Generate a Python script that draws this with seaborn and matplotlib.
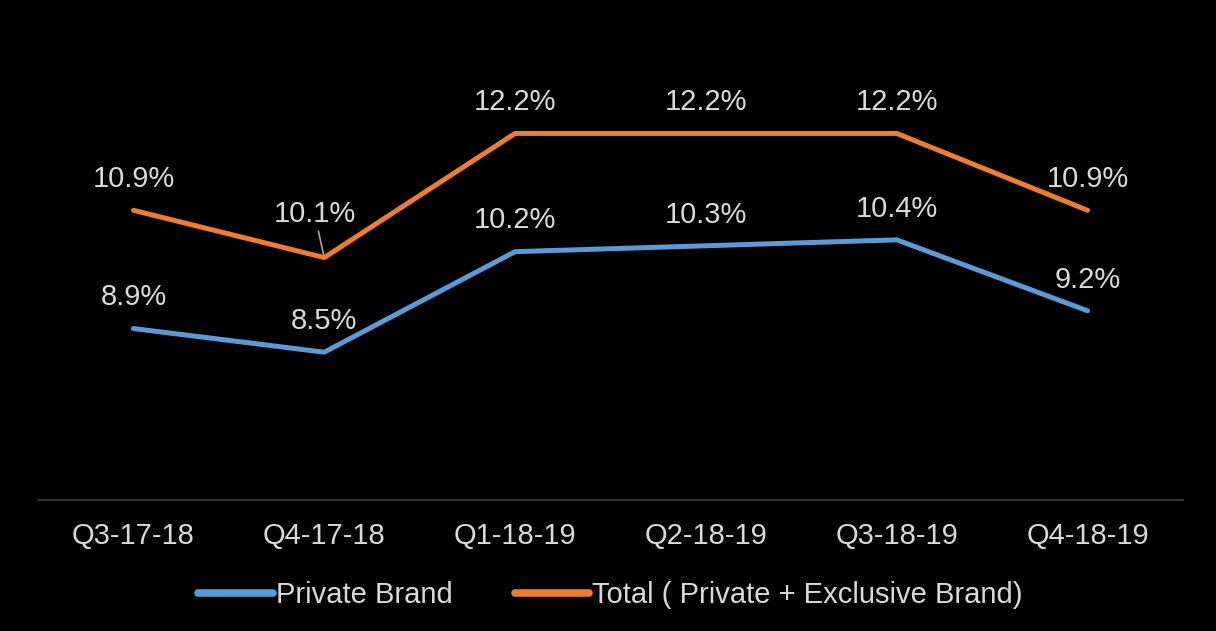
import matplotlib
matplotlib.use("Agg")
import matplotlib.pyplot as plt
import seaborn as sns
import pandas as pd

quarters = ["Q3-17-18", "Q4-17-18", "Q1-18-19", "Q2-18-19", "Q3-18-19", "Q4-18-19"]
private_brand = [8.9, 8.5, 10.2, 10.3, 10.4, 9.2]
total_brand = [10.9, 10.1, 12.2, 12.2, 12.2, 10.9]
series_names = ["Private Brand", "Total ( Private + Exclusive Brand)"]
colors = ["#5b9bd5", "#ed7d31"]

df = pd.DataFrame({
    "quarter": quarters * 2,
    "value": private_brand + total_brand,
    "series": [series_names[0]] * len(quarters) + [series_names[1]] * len(quarters),
})

sns.set_style("dark")
plt.rcParams["font.family"] = ["Liberation Sans", "DejaVu Sans"]
text_color = "#d9d9d9"
fs = 21

fig = plt.figure(figsize=(12.16, 6.31), dpi=100, facecolor="black")
ax = fig.add_axes([38 / 1216, 1 - 500 / 631, (1183 - 38) / 1216, (500 - 27) / 631])
ax.set_facecolor("black")

sns.lineplot(data=df, x="quarter", y="value", hue="series", palette=colors,
             linewidth=3.6, ax=ax, sort=False, legend=True)

ax.set_xlim(-0.5, len(quarters) - 0.5)
ax.set_ylim(6, 14)
ax.set_yticks([])
ax.set_xlabel("")
ax.set_ylabel("")
ax.grid(False)
for side in ["top", "right", "left"]:
    ax.spines[side].set_visible(False)
ax.spines["bottom"].set_color("#404040")
ax.spines["bottom"].set_linewidth(1.2)
ax.tick_params(axis="x", length=0, colors=text_color, labelsize=fs, pad=16)

# value labels above each point
for vals in (private_brand, total_brand):
    for i, v in enumerate(vals):
        if vals is total_brand and i == 1:
            continue
        ax.annotate(f"{v:.1f}%", (i, v), xytext=(0, 22.5), textcoords="offset points",
                    ha="center", va="center", color=text_color, fontsize=fs)

# offset label with leader line
ax.annotate(f"{total_brand[1]:.1f}%", (1, total_brand[1]), xytext=(-7, 31.5),
            textcoords="offset points", ha="center", va="center",
            color=text_color, fontsize=fs,
            arrowprops=dict(arrowstyle="-", color="#a6a6a6", lw=1.2,
                            shrinkA=0, shrinkB=2))

leg = ax.legend(loc="center", bbox_to_anchor=(0.5, -0.201), ncol=2,
                frameon=False, fontsize=fs, handlelength=2.55, handletextpad=0.1,
                columnspacing=2.15, borderaxespad=0)
for txt in leg.get_texts():
    txt.set_color(text_color)
for line in leg.get_lines():
    line.set_linewidth(5.5)
    line.set_solid_capstyle("round")

fig.savefig("out.png", dpi=100, facecolor="black")
